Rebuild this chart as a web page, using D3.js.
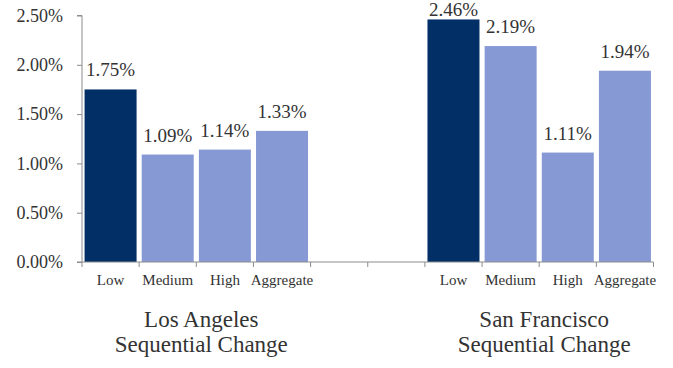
<!DOCTYPE html>
<html>
<head>
<meta charset="utf-8">
<script src="https://cdn.jsdelivr.net/npm/d3@7"></script>
<style>
  html, body { margin: 0; padding: 0; background: #fff; }
  svg { display: block; }
  text { font-family: "Liberation Serif", "Times New Roman", serif; fill: #333; }
</style>
</head>
<body>
<svg id="chart" width="673" height="368"></svg>
<script>
// Sequential change by tier, two metros
const tiers = ["Low", "Medium", "High", "Aggregate"];
const cities = ["Los Angeles", "San Francisco"];
const losAngeles = [1.75, 1.09, 1.14, 1.33];
const sanFrancisco = [2.46, 2.19, 1.11, 1.94];
const yTicks = [0, 0.5, 1.0, 1.5, 2.0, 2.5];
const groupTitle = ["Sequential Change"];

// Category slots: four tiers, two empty spacer slots, four tiers
const slots = [
  ...tiers.map(t => "LA|" + t),
  "gap1", "gap2",
  ...tiers.map(t => "SF|" + t)
];
const bars = [
  ...tiers.map((t, i) => ({ key: "LA|" + t, tier: t, value: losAngeles[i] })),
  ...tiers.map((t, i) => ({ key: "SF|" + t, tier: t, value: sanFrancisco[i] }))
];

const svg = d3.select("#chart");
const plot = { left: 82, right: 653.5, top: 15.5, bottom: 262 };

const x = d3.scaleBand().domain(slots).range([plot.left, plot.right]).paddingInner(0.09).paddingOuter(0.045);
const slotW = (plot.right - plot.left) / slots.length;
const y = d3.scaleLinear().domain([0, 2.5]).range([plot.bottom, plot.top]);

const navy = "#012F66", light = "#8799D4", axisCol = "#8c8c8c";

// Bars
svg.append("g").selectAll("rect").data(bars).join("rect")
  .attr("x", d => x(d.key))
  .attr("y", d => y(d.value))
  .attr("width", x.bandwidth())
  .attr("height", d => y(0) - y(d.value))
  .attr("fill", d => d.tier === "Low" ? navy : light);

// Value labels (kept inside the top edge when the bar is tall)
svg.append("g").selectAll("text").data(bars).join("text")
  .attr("x", d => x(d.key) + x.bandwidth() / 2)
  .attr("y", d => Math.max(y(d.value) - 13, 16))
  .attr("text-anchor", "middle")
  .style("font-size", "19px")
  .text(d => d.value.toFixed(2) + "%");

// Y axis
const yAxis = d3.axisLeft(y).tickValues(yTicks).tickSize(5).tickPadding(14)
  .tickFormat(d => d.toFixed(2) + "%");
const gy = svg.append("g").attr("transform", `translate(${plot.left},0)`).call(yAxis);
gy.select(".domain").attr("stroke", axisCol).attr("d", `M-5,${plot.top}H0V${plot.bottom}H-5`);
gy.selectAll(".tick line").attr("stroke", axisCol);
gy.selectAll(".tick text").style("font-size", "18px").style("font-family", "Liberation Serif, serif").attr("fill", "#333");

// X axis baseline with boundary ticks
const gx = svg.append("g");
gx.append("line").attr("x1", plot.left).attr("x2", plot.right).attr("y1", plot.bottom).attr("y2", plot.bottom)
  .attr("stroke", axisCol);
gx.selectAll("line.tk").data(d3.range(slots.length + 1)).join("line")
  .attr("class", "tk")
  .attr("x1", i => plot.left + i * slotW).attr("x2", i => plot.left + i * slotW)
  .attr("y1", plot.bottom).attr("y2", plot.bottom + 5)
  .attr("stroke", axisCol);

// Tier labels
svg.append("g").selectAll("text").data(bars).join("text")
  .attr("x", d => x(d.key) + x.bandwidth() / 2)
  .attr("y", 285)
  .attr("text-anchor", "middle")
  .style("font-size", "15px")
  .text(d => d.tier);

// Group titles
const groups = [
  { name: cities[0], keys: tiers.map(t => "LA|" + t) },
  { name: cities[1], keys: tiers.map(t => "SF|" + t) }
];
groups.forEach(g => {
  const x0 = x(g.keys[0]), x1 = x(g.keys[3]) + x.bandwidth();
  const cx = (x0 + x1) / 2 + 5;
  const t = svg.append("text").attr("text-anchor", "middle").style("font-size", "23px");
  t.append("tspan").attr("x", cx).attr("y", 327).text(g.name);
  t.append("tspan").attr("x", cx).attr("y", 352).text(groupTitle[0]);
});
</script>
</body>
</html>
